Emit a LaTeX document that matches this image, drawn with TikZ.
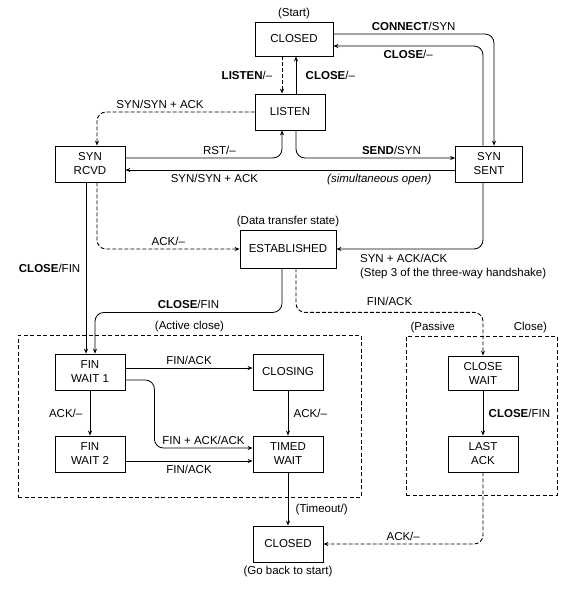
\documentclass[tikz,border=0pt]{standalone}
\usepackage{fontspec}
\setmainfont{Liberation Sans}
\usetikzlibrary{positioning,arrows.meta}

\begin{document}
\begin{tikzpicture}[
    x=1pt, y=-1pt,
    font=\fontsize{11.5}{14}\selectfont,
    state/.style={rectangle, draw, line width=0.8pt, align=center,
                  minimum width=70pt, minimum height=36pt, inner sep=2pt},
    note/.style={inner sep=1pt},
    trans/.style={draw, line width=0.8pt, rounded corners=9pt,
                  -{Stealth[length=5pt, width=4pt]}},
    dtrans/.style={trans, line width=0.9pt, dash pattern=on 4pt off 2pt},
    frame/.style={rectangle, draw, line width=0.8pt, dash pattern=on 4pt off 2.5pt,
                  inner sep=0pt},
  ]
  \useasboundingbox (0,0) rectangle (572,590);

  % Column x-positions
  \def\cA{90}\def\cB{288}\def\cC{483}

  % FRAMES
  \node[frame, minimum width=343pt, minimum height=162pt] (activebox) at (189.5,416) {};
  \node[note, above=2pt of activebox.north] (activelbl) {(Active close)};
  \node[frame, minimum width=151pt, minimum height=159pt] (passivebox) at (481.5,415.5) {};
  \node[note, above=2pt of passivebox.north west, xshift=27pt] (passivelbl) {(Passive};
  \node[note, above=2pt of passivebox.north east, xshift=-27pt] (closelbl) {Close)};

  % OPEN
  \node[state, minimum width=78pt, minimum height=34pt] (closed) at (294,39) {CLOSED};
  \node[note, above=2pt of closed] (start) {(Start)};
  \node[state] (listen) at (290,112) {LISTEN};
  \node[state] (synrcvd) at (\cA,164) {SYN\\RCVD};
  \node[state, minimum width=67pt] (synsent) at (489,164) {SYN\\SENT};
  \node[state, minimum width=96pt, minimum height=38pt] (established) at (\cB,249) {ESTABLISHED};
  \node[note, above=2pt of established] (datalbl) {(Data transfer state)};

  % ACTIVE CLOSE
  \node[state] (finwait1) at (\cA,372) {FIN\\WAIT 1};
  \node[state] (closing) at (\cB,372) {CLOSING};
  \node[state] (finwait2) at (\cA,454) {FIN\\WAIT 2};
  \node[state] (timedwait) at (\cB,454) {TIMED\\WAIT};

  % PASSIVE CLOSE
  \node[state, minimum height=34pt] (closewait) at (\cC,373) {CLOSE\\WAIT};
  \node[state] (lastack) at (\cC,454) {LAST\\ACK};

  % BACK TO START
  \node[state] (closedend) at (\cB,544) {CLOSED};
  \node[note, below=3pt of closedend] (backlbl) {(Go back to start)};

  % open transitions
  \draw[trans] ([yshift=5pt]closed.east) -| ([xshift=5pt]synsent.north)
    node[pos=0.25, above] {\textbf{CONNECT}/SYN};
  \draw[trans] ([xshift=-6pt]synsent.north) |- ([yshift=-7pt]closed.east)
    node[pos=0.75, below] {\textbf{CLOSE}/--};
  \draw[dtrans] ([xshift=-8pt]listen.north |- closed.south) -- ([xshift=-8pt]listen.north)
    node[midway, left=6pt] {\textbf{LISTEN}/--};
  \draw[trans] ([xshift=6pt]listen.north) -- ([xshift=6pt]listen.north |- closed.south)
    node[midway, right=6pt] {\textbf{CLOSE}/--};
  \draw[dtrans] (listen.west) -| ([xshift=7pt]synrcvd.north)
    node[pos=0.3, above] {SYN/SYN + ACK};
  \draw[trans] ([yshift=6pt]synrcvd.east) -| ([xshift=-8pt]listen.south)
    node[pos=0.3, above] {RST/--};
  \draw[trans] ([xshift=6pt]listen.south) |- ([yshift=6pt]synsent.west)
    node[pos=0.8, above] {\textbf{SEND}/SYN};
  \draw[trans] ([yshift=-6pt]synsent.west) -- ([yshift=-6pt]synrcvd.east)
    node[pos=0.73, below] {SYN/SYN + ACK}
    node[pos=0.23, below] {\itshape (simultaneous open)};
  \draw[dtrans] ([xshift=7pt]synrcvd.south) |- (established.west)
    node[pos=0.75, above] {ACK/--};
  \draw[trans] ([xshift=-6pt]synsent.south) |- (established.east)
    node[at end, anchor=north west, xshift=20pt, yshift=-1pt, align=left]
    {SYN + ACK/ACK\\(Step 3 of the three-way handshake)};

  % close transitions
  \draw[trans] ([xshift=-4pt]synrcvd.south) -- ([xshift=-4pt]synrcvd.south |- finwait1.north)
    node[midway, left=2pt] {\textbf{CLOSE}/FIN};
  \draw[trans] ([xshift=-6pt]established.south) -- ++(0,44) -| ([xshift=5pt]finwait1.north)
    node[pos=0.25, above] {\textbf{CLOSE}/FIN};
  \draw[dtrans] ([xshift=8pt]established.south) -- ++(0,44) -| (closewait.north)
    node[pos=0.25, above=3pt] {FIN/ACK};
  \draw[trans] ([yshift=4pt]finwait1.east) -- ([yshift=4pt]finwait1.east -| closing.west)
    node[midway, above] {FIN/ACK};
  \draw[trans] ([yshift=-8pt]finwait1.east) -- ++(29,0) |- ([yshift=6pt]timedwait.west)
    node[pos=0.75, above] {FIN + ACK/ACK};
  \draw[trans] (finwait1) -- (finwait2) node[midway, left=4pt] {ACK/--};
  \draw[trans] (closing) -- (timedwait) node[midway, right=2pt] {ACK/--};
  \draw[trans] ([yshift=-7pt]finwait2.east) -- ([yshift=-7pt]finwait2.east -| timedwait.west)
    node[midway, below] {FIN/ACK};
  \draw[trans] (closewait) -- (lastack) node[midway, right=2pt] {\textbf{CLOSE}/FIN};
  \draw[trans] (timedwait) -- (closedend) node[pos=0.7, right=4pt] {(Timeout/)};
  \draw[dtrans] (lastack.south) |- (closedend.east) node[pos=0.75, above] {ACK/--};

\end{tikzpicture}
\end{document}
